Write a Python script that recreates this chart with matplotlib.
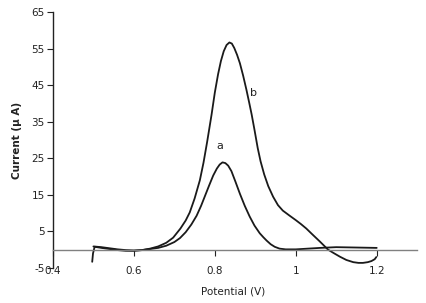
import matplotlib
matplotlib.use("Agg")
import matplotlib.pyplot as plt

plt.rcParams["axes.unicode_minus"] = False

# Curve a
a_x = [0.500, 0.520, 0.540, 0.560, 0.580, 0.600, 0.620, 0.640, 0.660, 0.680,
       0.700, 0.714, 0.728, 0.742, 0.755, 0.766, 0.776, 0.786, 0.796, 0.805,
       0.812, 0.819, 0.826, 0.833, 0.841, 0.851, 0.862, 0.874, 0.886, 0.898,
       0.911, 0.920, 0.928, 0.938, 0.948, 0.960, 0.975, 1.000, 1.030, 1.060,
       1.100, 1.150, 1.200]
a_y = [0.9, 0.7, 0.4, 0.1, -0.1, -0.2, -0.1, 0.2, 0.5, 1.1,
       2.1, 3.2, 4.8, 6.9, 9.3, 12.0, 14.8, 17.6, 20.3, 22.2,
       23.3, 23.9, 23.7, 23.0, 21.5, 18.6, 15.3, 12.0, 9.1, 6.6,
       4.5, 3.4, 2.5, 1.5, 0.8, 0.3, 0.1, 0.1, 0.3, 0.5,
       0.7, 0.6, 0.5]

# Curve b
b_x = [0.497, 0.499, 0.503, 0.520, 0.540, 0.560, 0.580, 0.600, 0.620, 0.640,
       0.660, 0.680, 0.697, 0.715, 0.728, 0.738, 0.750, 0.763, 0.772, 0.781,
       0.792, 0.800, 0.808, 0.815, 0.822, 0.829, 0.836, 0.842, 0.848, 0.855,
       0.862, 0.870, 0.878, 0.885, 0.891, 0.898, 0.906, 0.913, 0.922, 0.932,
       0.944, 0.956, 0.968, 0.985, 1.000, 1.013, 1.026, 1.040, 1.059, 1.070,
       1.080, 1.095, 1.109, 1.125, 1.142, 1.155, 1.166, 1.178, 1.187, 1.195,
       1.199]
b_y = [-3.3, -1.0, 0.8, 0.5, 0.2, -0.1, -0.3, -0.3, -0.1, 0.3,
       0.9, 1.9, 3.3, 5.8, 8.0, 10.2, 14.0, 19.0, 23.8, 29.5,
       37.0, 43.0, 48.0, 51.6, 54.3, 56.0, 56.7, 56.4, 55.2, 53.3,
       51.0, 47.6, 43.8, 40.2, 37.0, 32.8, 27.8, 24.2, 20.6, 17.4,
       14.5, 12.2, 10.7, 9.3, 8.1, 7.0, 5.8, 4.3, 2.3, 1.1,
       0.0, -1.0, -1.9, -2.8, -3.4, -3.6, -3.6, -3.4, -3.1, -2.6,
       -2.0]

y_ticks = [-5, 5, 15, 25, 35, 45, 55, 65]
x_ticks = [0.4, 0.6, 0.8, 1.0, 1.2]
x_tick_labels = ["0.4", "0.6", "0.8", "1", "1.2"]

fig = plt.figure(figsize=(4.27, 3.03), dpi=100)
ax = fig.add_axes([0.124, 0.1155, 0.853, 0.8445])

lc = "#1a1a1a"
ax.plot(a_x, a_y, color=lc, lw=1.3, solid_joinstyle="round", solid_capstyle="round")
ax.plot(b_x, b_y, color=lc, lw=1.3, solid_joinstyle="round", solid_capstyle="round")

ax.text(0.812, 28.5, "a", fontsize=8, ha="center", va="center", color="#222222")
ax.text(0.895, 43.0, "b", fontsize=8, ha="center", va="center", color="#222222")

ax.set_xlim(0.4, 1.3)
ax.set_ylim(-5, 65)

ax.spines["top"].set_visible(False)
ax.spines["right"].set_visible(False)
ax.spines["bottom"].set_position(("data", 0))
ax.spines["bottom"].set_color("#808080")
ax.spines["bottom"].set_linewidth(1.0)
ax.spines["left"].set_color("#222222")
ax.spines["left"].set_linewidth(1.0)

ax.set_yticks(y_ticks)
ax.set_xticks(x_ticks)
ax.set_xticklabels(x_tick_labels)
ax.tick_params(axis="y", direction="out", length=4, width=0.8, labelsize=7.5,
               pad=2, colors="#222222")
ax.tick_params(axis="x", direction="out", length=4, width=0.8, labelsize=7.5,
               pad=8, colors="#222222")
for t in ax.get_xticklines():
    t.set_color("#555555")

ax.set_ylabel("Current (μ A)", fontsize=7.5, fontweight="bold", color="#222222",
              labelpad=7)
fig.text(233 / 427, 1 - 291 / 303, "Potential (V)", fontsize=7.5, color="#222222",
         ha="center", va="center")

fig.savefig("out.png", dpi=100)
